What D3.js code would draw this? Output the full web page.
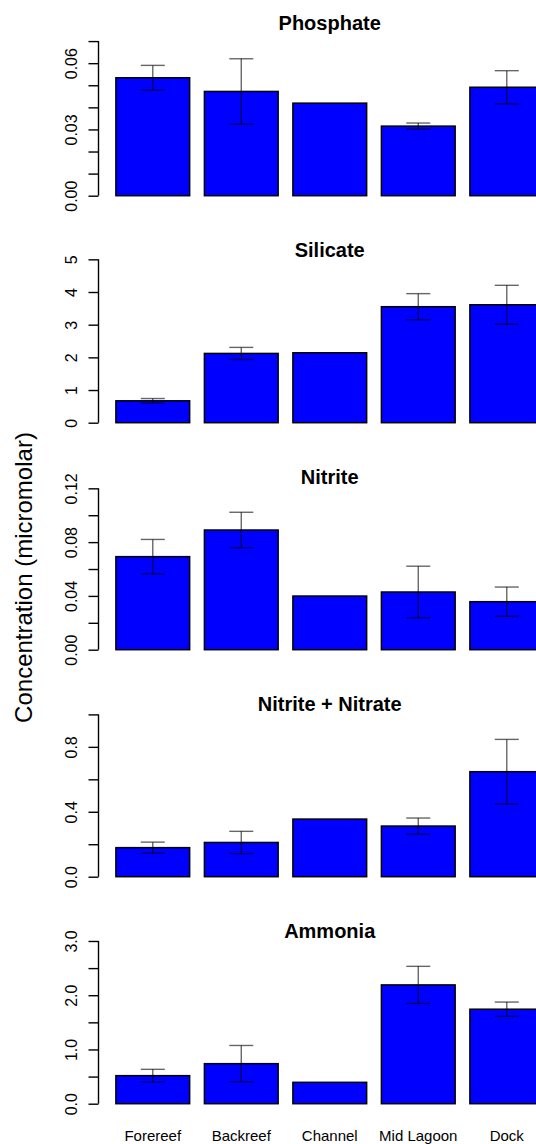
<!DOCTYPE html>
<html>
<head>
<meta charset="utf-8">
<script src="https://cdn.jsdelivr.net/npm/d3@7"></script>
<style>
  html, body { margin: 0; padding: 0; background: #fff; }
  svg { display: block; font-family: "Liberation Sans", Arial, sans-serif; }
</style>
</head>
<body>
<svg id="chart" width="536" height="1144"></svg>
<script>
// ---- data ----
const categories = ["Forereef", "Backreef", "Channel", "Mid Lagoon", "Dock"];
const panelTitles = ["Phosphate", "Silicate", "Nitrite", "Nitrite + Nitrate", "Ammonia"];

const phosphateMean = [0.0534, 0.0472, 0.0419, 0.0315, 0.0491];
const phosphateSE   = [0.0056, 0.0148, 0, 0.0014, 0.0075];
const silicateMean  = [0.67, 2.12, 2.14, 3.55, 3.61];
const silicateSE    = [0.07, 0.185, 0, 0.40, 0.595];
const nitriteMean   = [0.0692, 0.0890, 0.0399, 0.0429, 0.0357];
const nitriteSE     = [0.0128, 0.0132, 0, 0.0192, 0.0109];
const nnMean        = [0.179, 0.211, 0.355, 0.312, 0.647];
const nnSE          = [0.034, 0.0685, 0, 0.0495, 0.199];
const ammoniaMean   = [0.517, 0.738, 0.394, 2.19, 1.742];
const ammoniaSE     = [0.1165, 0.3355, 0, 0.3425, 0.132];

const yLimits = [0.0747, 5.05, 0.1227, 1.0166, 3.042];
const tickValues = [
  [0, 0.01, 0.02, 0.03, 0.04, 0.05, 0.06, 0.07],
  [0, 1, 2, 3, 4, 5],
  [0, 0.02, 0.04, 0.06, 0.08, 0.10, 0.12],
  [0, 0.2, 0.4, 0.6, 0.8, 1.0],
  [0, 0.5, 1.0, 1.5, 2.0, 2.5, 3.0]
];
const tickLabels = [
  {"0": "0.00", "0.03": "0.03", "0.06": "0.06"},
  {"0": "0", "1": "1", "2": "2", "3": "3", "4": "4", "5": "5"},
  {"0": "0.00", "0.04": "0.04", "0.08": "0.08", "0.12": "0.12"},
  {"0": "0.0", "0.4": "0.4", "0.8": "0.8"},
  {"0": "0.0", "1": "1.0", "2": "2.0", "3": "3.0"}
];
const yAxisTitle = "Concentration (micromolar)";

const panels = [
  {title: panelTitles[0], mean: phosphateMean, se: phosphateSE},
  {title: panelTitles[1], mean: silicateMean, se: silicateSE},
  {title: panelTitles[2], mean: nitriteMean, se: nitriteSE},
  {title: panelTitles[3], mean: nnMean, se: nnSE},
  {title: panelTitles[4], mean: ammoniaMean, se: ammoniaSE}
];

// ---- layout ----
const svg = d3.select("#chart");
const firstZero = 195.7, panelStep = 227, plotH = 165;
const axisX = 98.5;
const capHalf = 12;

const x = d3.scaleBand()
  .domain(categories)
  .range([101.15, 558.4])
  .paddingInner(1 / 6)
  .paddingOuter(1 / 6);

panels.forEach((p, i) => {
  const zeroY = firstZero + i * panelStep;
  const y = d3.scaleLinear().domain([0, yLimits[i]]).range([zeroY, zeroY - plotH]);
  const g = svg.append("g");

  // title
  g.append("text")
    .attr("x", 329.7)
    .attr("y", zeroY - 166)
    .attr("text-anchor", "middle")
    .attr("font-weight", "bold")
    .attr("font-size", 20)
    .text(p.title);

  // y axis
  const labels = tickLabels[i];
  const axis = d3.axisLeft(y)
    .tickValues(tickValues[i])
    .tickSize(10)
    .tickPadding(0)
    .tickFormat(d => {
      const key = String(+d.toFixed(4));
      return labels[key] !== undefined ? labels[key] : "";
    });
  const ag = g.append("g").attr("transform", `translate(${axisX},0)`).call(axis);
  ag.select(".domain")
    .attr("d", `M0,${y(tickValues[i][0])}V${y(tickValues[i][tickValues[i].length - 1])}`)
    .attr("stroke", "#000").attr("stroke-width", 1.4);
  ag.selectAll(".tick line").attr("stroke", "#000").attr("stroke-width", 1.4);
  ag.selectAll(".tick text")
    .attr("font-size", 16)
    .attr("fill", "#000")
    .attr("font-family", "'Liberation Sans', Arial, sans-serif")
    .attr("text-anchor", "middle")
    .attr("dy", null)
    .attr("x", null)
    .attr("transform", "translate(-22,0) rotate(-90)");

  // bars
  g.selectAll("rect.bar")
    .data(p.mean)
    .join("rect")
    .attr("class", "bar")
    .attr("x", (d, j) => x(categories[j]))
    .attr("width", x.bandwidth())
    .attr("y", d => y(d))
    .attr("height", d => y(0) - y(d))
    .attr("fill", "#0000ff")
    .attr("stroke", "#000")
    .attr("stroke-width", 1.5);

  // error bars
  const eb = p.mean.map((m, j) => ({m, s: p.se[j], c: categories[j]})).filter(d => d.s > 0);
  const ebg = g.selectAll("g.err").data(eb).join("g").attr("class", "err")
    .attr("stroke", "#000").attr("stroke-opacity", 0.6).attr("stroke-width", 1.4);
  ebg.append("line")
    .attr("x1", d => x(d.c) + x.bandwidth() / 2)
    .attr("x2", d => x(d.c) + x.bandwidth() / 2)
    .attr("y1", d => y(d.m - d.s))
    .attr("y2", d => y(d.m + d.s));
  ebg.append("line")
    .attr("x1", d => x(d.c) + x.bandwidth() / 2 - capHalf)
    .attr("x2", d => x(d.c) + x.bandwidth() / 2 + capHalf)
    .attr("y1", d => y(d.m + d.s))
    .attr("y2", d => y(d.m + d.s));
  ebg.append("line")
    .attr("x1", d => x(d.c) + x.bandwidth() / 2 - capHalf)
    .attr("x2", d => x(d.c) + x.bandwidth() / 2 + capHalf)
    .attr("y1", d => y(d.m - d.s))
    .attr("y2", d => y(d.m - d.s));

  // category labels on bottom panel
  if (i === panels.length - 1) {
    g.selectAll("text.cat")
      .data(categories)
      .join("text")
      .attr("class", "cat")
      .attr("x", d => x(d) + x.bandwidth() / 2)
      .attr("y", 1141)
      .attr("text-anchor", "middle")
      .attr("font-size", 15)
      .text(d => d);
  }
});

// y axis title
svg.append("text")
  .attr("transform", "translate(32,577.5) rotate(-90)")
  .attr("text-anchor", "middle")
  .attr("font-size", 24)
  .text(yAxisTitle);
</script>
</body>
</html>
